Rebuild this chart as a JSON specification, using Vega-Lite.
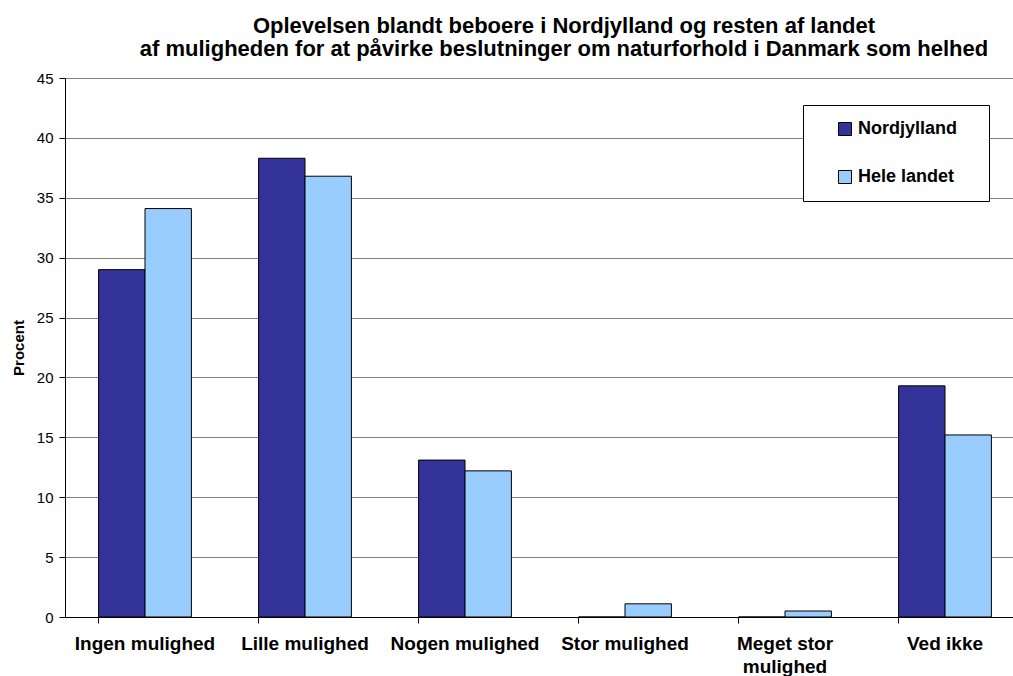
{
  "$schema": "https://vega.github.io/schema/vega-lite/v6.json",
  "width": 960,
  "height": 539,
  "autosize": {"type": "none"},
  "padding": {"left": 65, "top": 78, "right": 0, "bottom": 59},
  "background": "white",
  "config": {
    "view": {"stroke": null},
    "font": "Liberation Sans"
  },
  "title": {
    "text": ["Oplevelsen blandt beboere i Nordjylland og resten af landet", "af muligheden for at påvirke beslutninger om naturforhold i Danmark som helhed"],
    "font": "Liberation Sans",
    "fontSize": 22,
    "fontWeight": "bold",
    "color": "black",
    "anchor": "middle",
    "frame": "group",
    "dx": 19,
    "offset": 10,
    "lineHeight": 23
  },
  "data": {
    "values": [
      {"kategori": "Ingen mulighed", "serie": "Nordjylland", "procent": 29.0},
      {"kategori": "Ingen mulighed", "serie": "Hele landet", "procent": 34.1},
      {"kategori": "Lille mulighed", "serie": "Nordjylland", "procent": 38.3},
      {"kategori": "Lille mulighed", "serie": "Hele landet", "procent": 36.8},
      {"kategori": "Nogen mulighed", "serie": "Nordjylland", "procent": 13.1},
      {"kategori": "Nogen mulighed", "serie": "Hele landet", "procent": 12.2},
      {"kategori": "Stor mulighed", "serie": "Nordjylland", "procent": 0},
      {"kategori": "Stor mulighed", "serie": "Hele landet", "procent": 1.1},
      {"kategori": "Meget stor mulighed", "serie": "Nordjylland", "procent": 0},
      {"kategori": "Meget stor mulighed", "serie": "Hele landet", "procent": 0.5},
      {"kategori": "Ved ikke", "serie": "Nordjylland", "procent": 19.3},
      {"kategori": "Ved ikke", "serie": "Hele landet", "procent": 15.2}
    ]
  },
  "mark": {"type": "bar", "stroke": "black", "strokeWidth": 1},
  "encoding": {
    "x": {
      "field": "kategori",
      "type": "nominal",
      "sort": ["Ingen mulighed", "Lille mulighed", "Nogen mulighed", "Stor mulighed", "Meget stor mulighed", "Ved ikke"],
      "scale": {"paddingInner": 0.42, "paddingOuter": 0.21},
      "axis": {
        "title": null,
        "labelAngle": 0,
        "labelFont": "Liberation Sans",
        "labelFontSize": 19,
        "labelFontWeight": "bold",
        "labelColor": "black",
        "labelPadding": 11,
        "labelLineHeight": 23,
        "labelExpr": "datum.label == 'Meget stor mulighed' ? ['Meget stor', 'mulighed'] : datum.label",
        "bandPosition": 0,
        "tickSize": 6,
        "tickColor": "black",
        "domainColor": "black",
        "grid": false
      }
    },
    "xOffset": {
      "field": "serie",
      "type": "nominal",
      "sort": ["Nordjylland", "Hele landet"],
      "scale": {"paddingInner": 0, "paddingOuter": 0}
    },
    "y": {
      "field": "procent",
      "type": "quantitative",
      "scale": {"domain": [0, 45], "nice": false},
      "axis": {
        "title": "Procent",
        "titleFont": "Liberation Sans",
        "titleFontSize": 15,
        "titleFontWeight": "bold",
        "titleColor": "black",
        "titlePadding": 10,
        "values": [0, 5, 10, 15, 20, 25, 30, 35, 40, 45],
        "labelFont": "Liberation Sans",
        "labelFontSize": 15,
        "labelColor": "black",
        "labelPadding": 6,
        "tickSize": 6,
        "tickColor": "black",
        "domainColor": "black",
        "grid": true,
        "gridColor": "#808080",
        "gridWidth": 1
      }
    },
    "color": {
      "field": "serie",
      "type": "nominal",
      "sort": ["Nordjylland", "Hele landet"],
      "scale": {"domain": ["Nordjylland", "Hele landet"], "range": ["#333399", "#99CCFF"]},
      "legend": {
        "title": "\u2003",
        "titleOrient": "right",
        "titleFontSize": 18,
        "titlePadding": 17,
        "orient": "none",
        "legendX": 738,
        "legendY": 27,
        "fillColor": "white",
        "strokeColor": "black",
        "padding": 15,
        "symbolType": "square",
        "symbolSize": 169,
        "symbolStrokeColor": "black",
        "symbolStrokeWidth": 1,
        "symbolOpacity": 1,
        "symbolOffset": 18,
        "labelFont": "Liberation Sans",
        "labelFontSize": 18,
        "labelFontWeight": "bold",
        "labelColor": "black",
        "labelOffset": 4,
        "rowPadding": 30
      }
    }
  }
}
